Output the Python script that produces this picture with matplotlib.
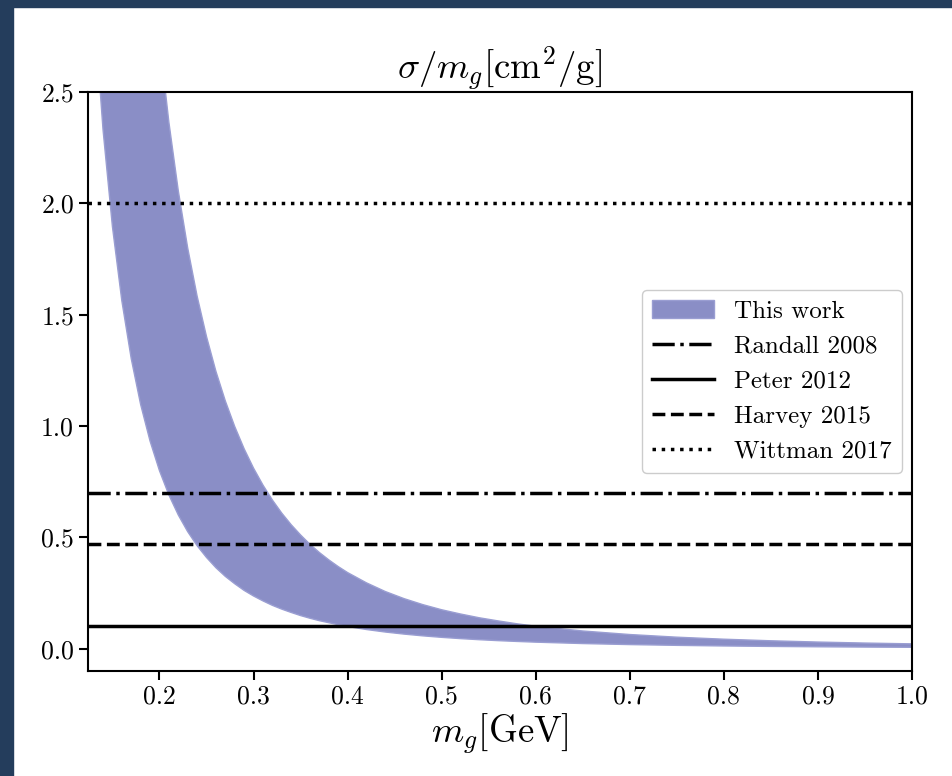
import numpy as np
import matplotlib
matplotlib.use("Agg")
import matplotlib.pyplot as plt
from matplotlib.patches import Rectangle

# LaTeX-like look
plt.rcParams['font.family'] = ['cmr10', 'DejaVu Serif']
plt.rcParams['mathtext.fontset'] = 'cm'
plt.rcParams['axes.formatter.use_mathtext'] = True

# band: sigma/m_g for the lower and upper edge
m_g = [0.12, 0.13, 0.14, 0.15, 0.16, 0.17, 0.18, 0.19, 0.20, 0.21, 0.22, 0.23,
       0.24, 0.25, 0.26, 0.27, 0.28, 0.29, 0.30, 0.31, 0.32, 0.33, 0.34, 0.35,
       0.36, 0.37, 0.38, 0.39, 0.40, 0.42, 0.44, 0.46, 0.48, 0.50, 0.52, 0.54,
       0.56, 0.58, 0.60, 0.65, 0.70, 0.75, 0.80, 0.85, 0.90, 0.95, 1.00]
band_low = [3.704, 2.913, 2.332, 1.896, 1.563, 1.303, 1.097, 0.933, 0.800, 0.691,
            0.601, 0.526, 0.463, 0.410, 0.364, 0.325, 0.292, 0.262, 0.237, 0.215,
            0.195, 0.178, 0.163, 0.149, 0.137, 0.126, 0.117, 0.108, 0.100, 0.0864,
            0.0751, 0.0658, 0.0579, 0.0512, 0.0455, 0.0406, 0.0364, 0.0328, 0.0296,
            0.0233, 0.0187, 0.0152, 0.0125, 0.0104, 0.0088, 0.0075, 0.0064]
band_high = [12.67, 9.97, 7.98, 6.49, 5.35, 4.46, 3.755, 3.193, 2.738, 2.365,
             2.057, 1.800, 1.584, 1.402, 1.246, 1.113, 0.998, 0.898, 0.811, 0.735,
             0.668, 0.609, 0.557, 0.511, 0.469, 0.432, 0.399, 0.369, 0.342, 0.296,
             0.257, 0.225, 0.198, 0.175, 0.156, 0.139, 0.125, 0.112, 0.101,
             0.0797, 0.0638, 0.0519, 0.0428, 0.0357, 0.0300, 0.0255, 0.0219]

# observational limits
limit_names = ["Randall 2008", "Peter 2012", "Harvey 2015", "Wittman 2017"]
limit_values = [0.70, 0.10, 0.47, 2.00]
limit_styles = ["-.", "-", "--", ":"]

fig = plt.figure(figsize=(9.53, 7.76), dpi=100, facecolor='white')
# dark frame strips on the left and top
fig.patches.append(Rectangle((0, 0), 13 / 953, 1, transform=fig.transFigure,
                             color='#243d5c', zorder=-10))
fig.patches.append(Rectangle((0, 1 - 7 / 776), 1, 7 / 776, transform=fig.transFigure,
                             color='#243d5c', zorder=-10))

ax = fig.add_axes([0.0923, 0.1353, 0.957 - 0.0923, 0.8814 - 0.1353])

ax.fill_between(m_g, band_low, band_high, color='#8a8ec6', edgecolor='#9a9ed2',
                linewidth=1, label='This work')
for name, val, ls in zip(limit_names, limit_values, limit_styles):
    ax.axhline(val, color='black', linestyle=ls, linewidth=2.5, label=name)

ax.set_xlim(0.124, 1.0)
ax.set_ylim(-0.1, 2.5)
ax.set_xticks(np.arange(0.2, 1.01, 0.1))
ax.set_yticks([0.0, 0.5, 1.0, 1.5, 2.0, 2.5])
ax.xaxis.set_major_formatter(matplotlib.ticker.FormatStrFormatter('%.1f'))
ax.yaxis.set_major_formatter(matplotlib.ticker.FormatStrFormatter('%.1f'))
ax.tick_params(labelsize=18.5, length=6.5, width=1.5)
for s in ax.spines.values():
    s.set_linewidth(1.5)

ax.set_title(r'$\sigma/m_g[\mathrm{cm}^2/\mathrm{g}]$', fontsize=26.5, pad=6)
ax.set_xlabel(r'$m_g[\mathrm{GeV}]$', fontsize=26.5, labelpad=2)

ax.legend(loc='center right', fontsize=18, handlelength=2.5, framealpha=1,
          edgecolor='#cccccc', borderaxespad=0.4)

fig.savefig('out.png', dpi=100, facecolor='white')
